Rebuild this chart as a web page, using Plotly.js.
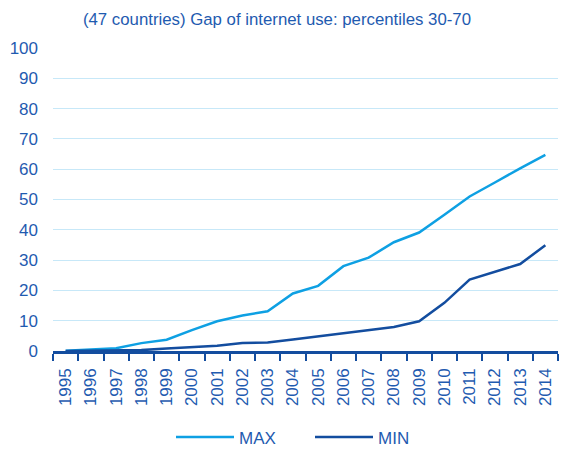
<!DOCTYPE html>
<html>
<head>
<meta charset="utf-8">
<script src="https://cdn.plot.ly/plotly-3.0.1.min.js"></script>
<style>
  html, body { margin: 0; padding: 0; background: #ffffff; }
  #chart { width: 563px; height: 451px; }
</style>
</head>
<body>
<div id="chart"></div>
<script>
// Internet use gap between the 30th and 70th percentiles, 47 countries
const years = ["1995", "1996", "1997", "1998", "1999", "2000", "2001", "2002", "2003", "2004",
               "2005", "2006", "2007", "2008", "2009", "2010", "2011", "2012", "2013", "2014"];
const maxGap = [0.1, 0.5, 0.9, 2.6, 3.7, 6.9, 9.8, 11.7, 13.1, 19.0,
                21.5, 28.0, 30.8, 35.9, 39.1, 45.0, 51.0, 55.6, 60.3, 64.7];
const minGap = [0.0, 0.1, 0.2, 0.3, 0.8, 1.3, 1.7, 2.6, 2.8, 3.8,
                4.8, 5.8, 7.0, 7.9, 9.8, 15.9, 23.6, 26.2, 28.7, 34.9];
const yTicks = [0, 10, 20, 30, 40, 50, 60, 70, 80, 90, 100];

const textBlue = "#1f5bb0";
const font = "Liberation Sans, Arial, sans-serif";

const traces = [
  { x: years, y: maxGap, name: "MAX", type: "scatter", mode: "lines",
    line: { color: "#0ea0e3", width: 2.5 } },
  { x: years, y: minGap, name: "MIN", type: "scatter", mode: "lines",
    line: { color: "#134d9f", width: 2.5 } }
];

const layout = {
  width: 563, height: 451,
  margin: { l: 53, r: 5, t: 48, b: 100 },
  paper_bgcolor: "#ffffff", plot_bgcolor: "#ffffff",
  font: { family: font, color: textBlue, size: 17 },
  title: { text: "(47 countries) Gap of internet use: percentiles 30-70",
           font: { size: 16.8, color: textBlue, family: font },
           x: 0.492, xref: "container", xanchor: "center",
           y: 0.958, yref: "container", yanchor: "middle" },
  xaxis: { type: "category", range: [-0.5, years.length - 0.5],
           tickangle: -90, tickson: "boundaries",
           ticks: "outside", ticklen: 7, tickwidth: 2, tickcolor: "#134d9f",
           showline: true, linecolor: "#134d9f", linewidth: 2.5,
           showgrid: false, zeroline: false, ticklabelstandoff: 8,
           tickfont: { size: 17, color: textBlue }, fixedrange: true },
  yaxis: { range: [0, 100], tickvals: yTicks, showgrid: true,
           gridcolor: "#c7e8f8", gridwidth: 1, zeroline: false,
           ticks: "", ticklabelstandoff: 14,
           tickfont: { size: 17, color: textBlue }, fixedrange: true },
  showlegend: true,
  legend: { orientation: "h", x: 171 / 563, xref: "container", xanchor: "left",
            y: 0.03, yref: "container", yanchor: "middle",
            font: { size: 17, color: textBlue }, itemwidth: 58,
            tracegroupgap: 0, entrywidth: 66 }
};

Plotly.newPlot("chart", traces, layout, { displayModeBar: false, staticPlot: true });
</script>
</body>
</html>
